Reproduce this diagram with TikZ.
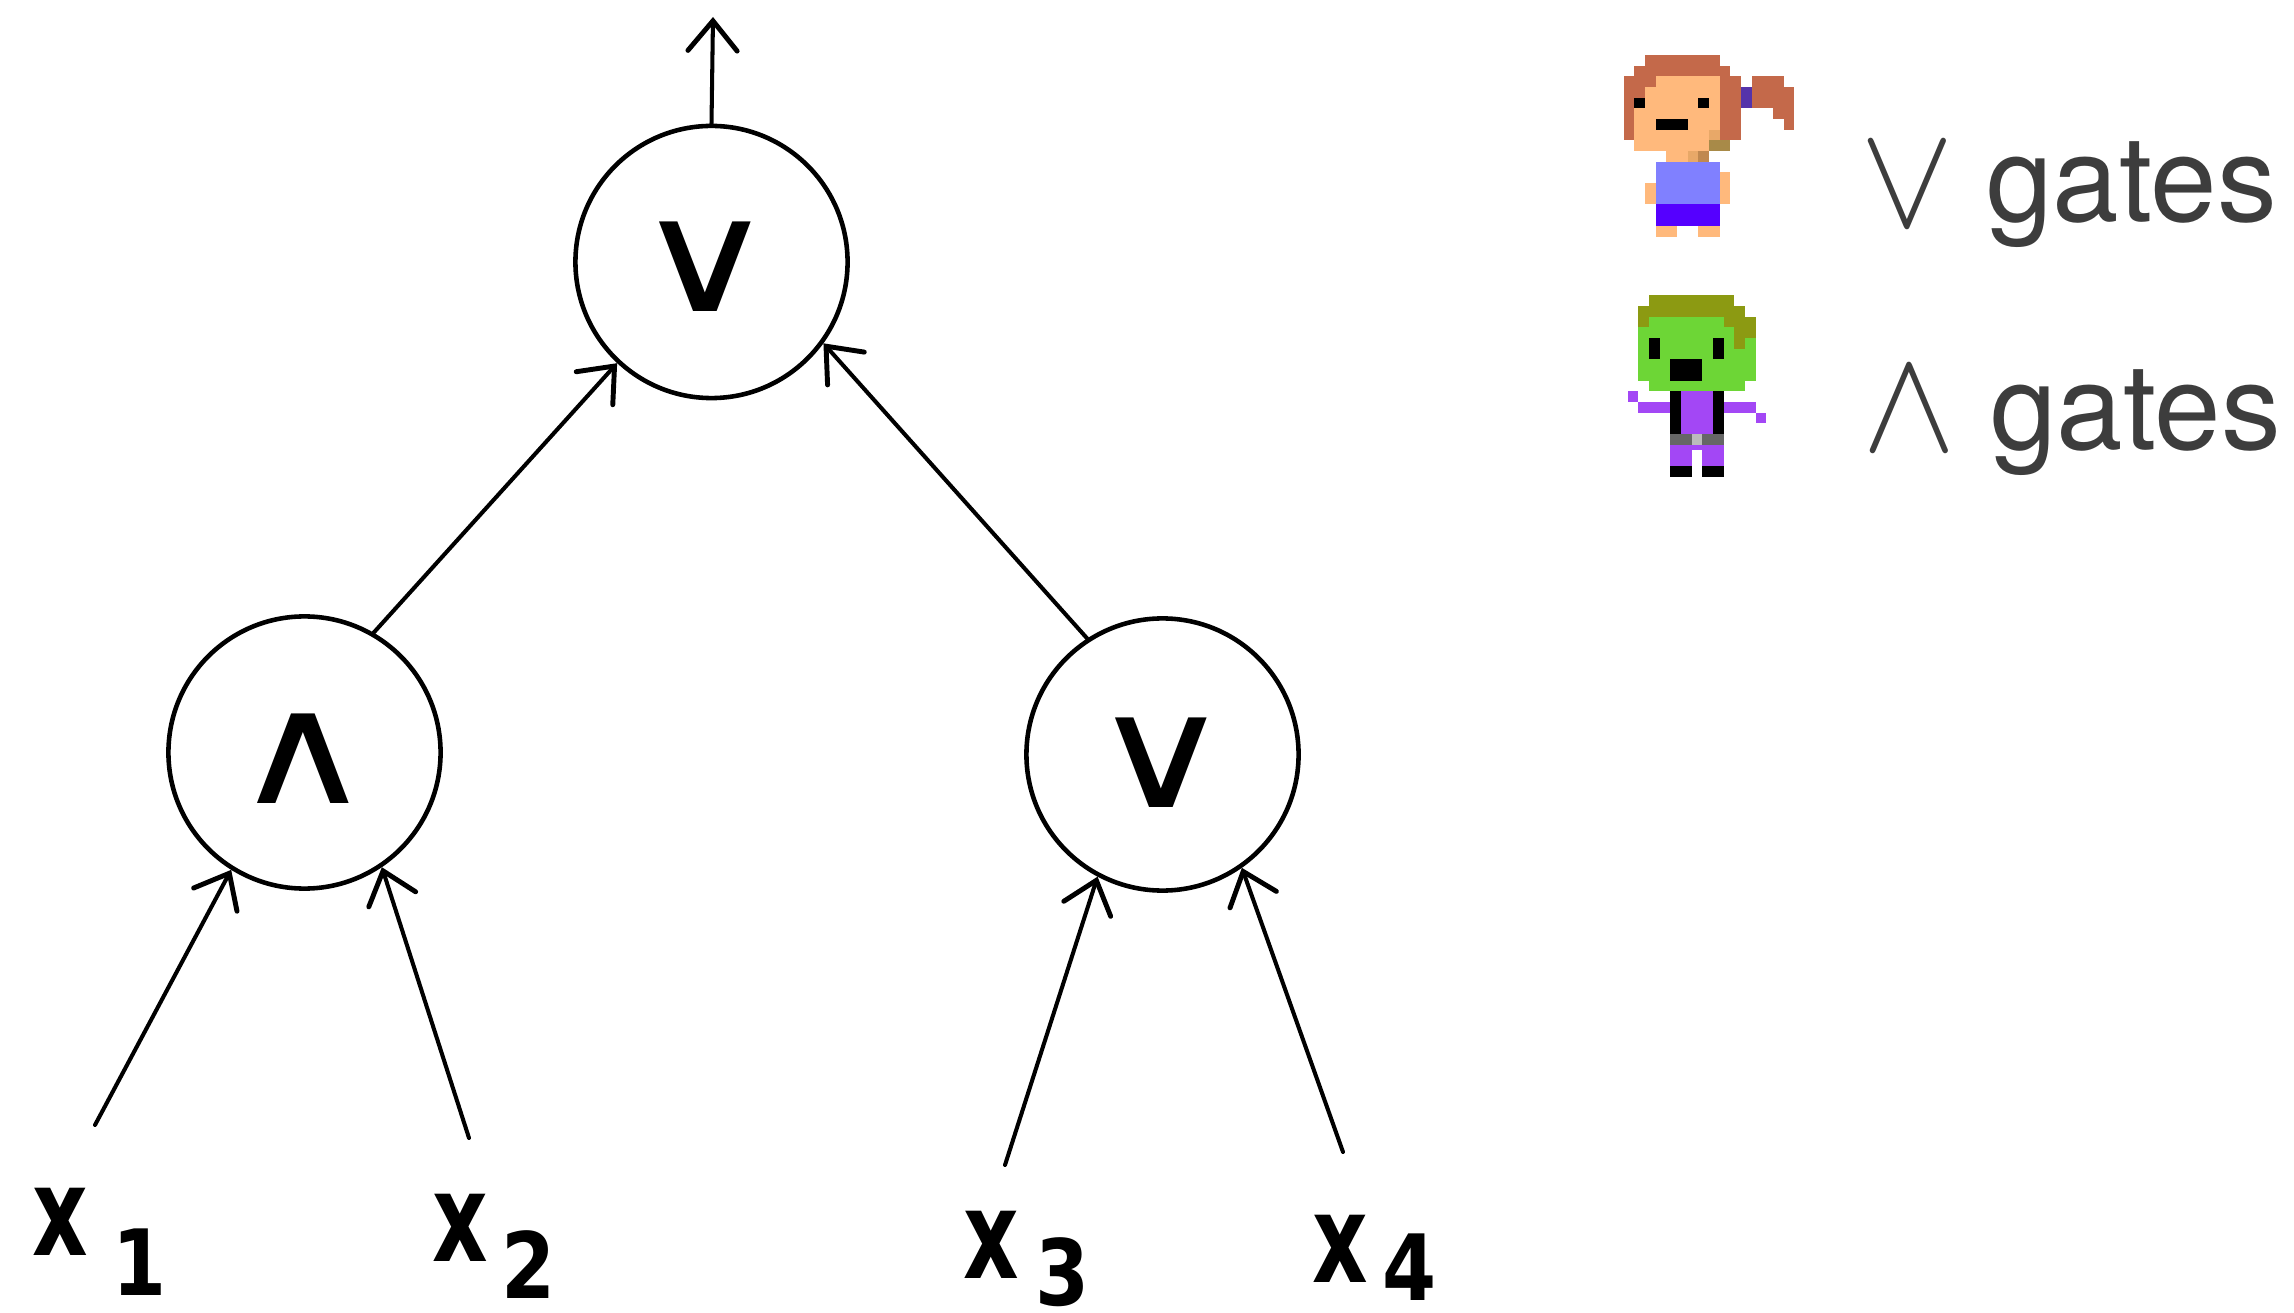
\documentclass[tikz,border=0pt]{standalone}
\usepackage{fontspec}
\usepackage{graphicx}
\usetikzlibrary{arrows.meta}
\setmainfont{DejaVu Sans}
\newfontfamily\handfont{DejaVu Sans}
\newfontfamily\legendfont{TeX Gyre Heros}
\definecolor{legendgray}{HTML}{3D3D3D}
% pixel-art palette
\definecolor{hairred}{HTML}{C4694A}
\definecolor{skin}{HTML}{FFB97C}
\definecolor{tie}{HTML}{5533AA}
\definecolor{shirtblue}{HTML}{8080FF}
\definecolor{shorts}{HTML}{5500FF}
\definecolor{blendA}{HTML}{E8A868}
\definecolor{blendB}{HTML}{A88A48}
\definecolor{blendC}{HTML}{C08850}
\definecolor{hairolive}{HTML}{8C9A12}
\definecolor{zgreen}{HTML}{6DD636}
\definecolor{zpurple}{HTML}{A347F5}
\definecolor{belt}{HTML}{666666}
\definecolor{buckle}{HTML}{BBBBBB}
% one filled cell block of a pixel sprite: colour, column, row, width, height
\newcommand\pixcell[5]{\fill[#1] (#2,#3) rectangle ++(#4,#5);}
% handwritten-style input label: digit, gap, drop
\newcommand\inlabel[3]{\scalebox{0.7}[1]{x}\hspace{#2}\raisebox{#3}{\fontsize{26}{26}\selectfont\scalebox{0.85}[1]{#1}}}
% widened gate symbol
\newcommand\gatesym[1]{\scalebox{1.25}[1]{#1}}
% thin legend operator, scaled from the math font
\newcommand\legop[1]{\scalebox{4.0}[4.2]{$#1$}}
\tikzset{
  gate/.style={circle, draw, line width=1.3pt, minimum size=2.72cm, inner sep=0pt},
  gatemark/.style={inner sep=0pt, font=\handfont\fontsize{44}{44}\selectfont},
  wire/.style={line width=1.15pt, line cap=round,
    -{Straight Barb[length=8.5pt,width=14pt,line width=1.4pt,line cap=round]}},
  input/.style={anchor=base west, inner sep=0pt, font=\handfont\bfseries\fontsize{35}{35}\selectfont},
  legtext/.style={anchor=base west, inner sep=0pt, text=legendgray,
    font=\legendfont\fontsize{34}{34}\selectfont},
  legsym/.style={anchor=base, inner sep=0pt, text=legendgray},
}
\begin{document}
\begin{tikzpicture}[x=0.01cm, y=-0.01cm]
\path[use as bounding box] (0,0) rectangle (2294,1313);

% gates
\node[gate] (top) at (711.5,262) {};
\node[gate] (g1)  at (304.5,752.5) {};
\node[gate] (g2)  at (1162.5,754.5) {};
\node[gatemark] (topmark) at (705,267) {\gatesym{∨}};
\node[gatemark] (g1mark)  at (303.5,758.5) {\gatesym{∧}};
\node[gatemark] (g2mark)  at (1161.5,763) {\gatesym{∨}};

% inputs
\node[input] (x1) at (32,1255) {\inlabel{1}{0.24cm}{-0.40cm}};
\node[input] (x2) at (432,1261) {\inlabel{2}{0.13cm}{-0.37cm}};
\node[input] (x3) at (963,1278) {\inlabel{3}{0.16cm}{-0.27cm}};
\node[input] (x4) at (1312,1282) {\inlabel{4}{0.14cm}{-0.18cm}};

% free ends of the wires
\coordinate (t1) at (95,1125);
\coordinate (t2) at (469,1138);
\coordinate (t3) at (1005,1165);
\coordinate (t4) at (1343,1152);
\coordinate (out) at (713,17);

% wires
\draw[wire] (t1) -- (g1.-122);
\draw[wire] (t2) -- (g1.-56);
\draw[wire] (t3) -- (g2.-118);
\draw[wire] (t4) -- (g2.-55);
\draw[wire] (g1.60) -- (top.-133);
\draw[wire] (g2.123) -- (top.-36);
\draw[wire] (top.north) -- (out);

% legend text
\node[legsym]  (orsym)  at (1907,227) {\legop{\vee}};
\node[legtext] (ortxt)  at (1986,222) {gates};
\node[legsym]  (andsym) at (1909,451) {\legop{\wedge}};
\node[legtext] (andtxt) at (1990,450) {gates};

% girl sprite (∨ gates)
\begin{scope}[xshift=16.227cm, yshift=-0.55cm, x=0.1067cm, y=-0.1067cm]
  \pixcell{hairred}{2}{0}{7}{1}
  \pixcell{hairred}{1}{1}{9}{1}
  \pixcell{hairred}{0}{2}{3}{1}
  \pixcell{hairred}{9}{2}{2}{1}
  \pixcell{hairred}{0}{3}{2}{1}
  \pixcell{hairred}{0}{4}{1}{4}
  \pixcell{hairred}{9}{3}{2}{5}
  \pixcell{hairred}{12}{2}{3}{1}
  \pixcell{hairred}{12}{3}{4}{2}
  \pixcell{hairred}{14}{5}{2}{1}
  \pixcell{hairred}{15}{6}{1}{1}
  \pixcell{tie}{11}{3}{1}{2}
  \pixcell{skin}{3}{2}{6}{1}
  \pixcell{skin}{2}{3}{7}{1}
  \pixcell{skin}{1}{4}{8}{4}
  \pixcell{skin}{1}{8}{7}{1}
  \pixcell{skin}{4}{9}{2}{1}
  \pixcell{blendA}{8}{7}{1}{1}
  \pixcell{blendB}{8}{8}{2}{1}
  \pixcell{blendA}{6}{9}{1}{1}
  \pixcell{blendC}{7}{9}{1}{1}
  \pixcell{black}{1}{4}{1}{1}
  \pixcell{black}{7}{4}{1}{1}
  \pixcell{black}{3}{6}{3}{1}
  \pixcell{shirtblue}{3}{10}{6}{4}
  \pixcell{skin}{2}{12}{1}{2}
  \pixcell{skin}{9}{11}{1}{3}
  \pixcell{shorts}{3}{14}{6}{2}
  \pixcell{skin}{3}{16}{2}{1}
  \pixcell{skin}{7}{16}{2}{1}
\end{scope}

% zombie sprite (∧ gates)
\begin{scope}[xshift=16.267cm, yshift=-2.95cm, x=0.1067cm, y=-0.1067cm]
  \pixcell{hairolive}{2}{0}{8}{1}
  \pixcell{hairolive}{1}{1}{10}{1}
  \pixcell{hairolive}{1}{2}{1}{1}
  \pixcell{hairolive}{9}{2}{3}{1}
  \pixcell{hairolive}{10}{3}{2}{1}
  \pixcell{hairolive}{10}{4}{1}{1}
  \pixcell{zgreen}{2}{2}{7}{1}
  \pixcell{zgreen}{1}{3}{9}{1}
  \pixcell{zgreen}{1}{4}{9}{1}
  \pixcell{zgreen}{11}{4}{1}{1}
  \pixcell{zgreen}{1}{5}{11}{3}
  \pixcell{zgreen}{2}{8}{9}{1}
  \pixcell{black}{2}{4}{1}{2}
  \pixcell{black}{8}{4}{1}{2}
  \pixcell{black}{4}{6}{3}{2}
  \pixcell{black}{4}{9}{1}{4}
  \pixcell{black}{8}{9}{1}{4}
  \pixcell{zpurple}{5}{9}{3}{4}
  \pixcell{zpurple}{0}{9}{1}{1}
  \pixcell{zpurple}{1}{10}{3}{1}
  \pixcell{zpurple}{9}{10}{3}{1}
  \pixcell{zpurple}{12}{11}{1}{1}
  \pixcell{belt}{4}{13}{5}{1}
  \pixcell{buckle}{6}{13}{1}{1}
  \pixcell{zpurple}{4}{14}{2}{2}
  \pixcell{zpurple}{7}{14}{2}{2}
  \pixcell{zpurple}{6}{14}{1}{0.5}
  \pixcell{black}{4}{16}{2}{1}
  \pixcell{black}{7}{16}{2}{1}
\end{scope}
\end{tikzpicture}
\end{document}
